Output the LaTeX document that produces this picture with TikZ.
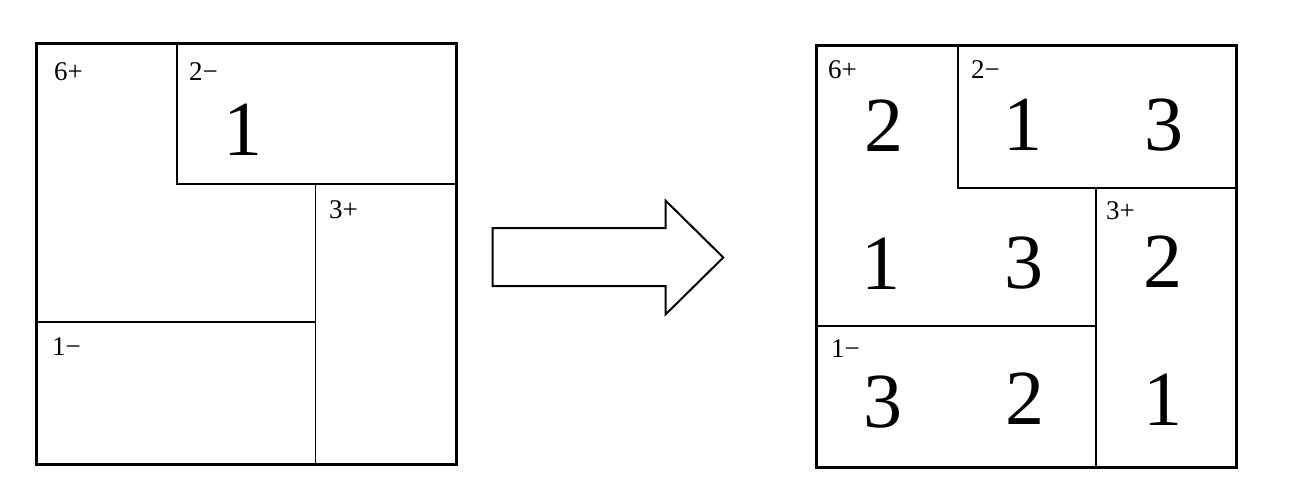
\documentclass[tikz,border=0pt]{standalone}
\usepackage{fontspec}
\setmainfont{Liberation Serif}
\begin{document}
\begin{tikzpicture}[x=1pt,y=-1pt,
  outer/.style={line width=3pt,line join=miter},
  inner/.style={line width=1.5pt},
  lbl/.style={anchor=base west,inner sep=0pt,font=\fontsize{27}{32}\selectfont},
  big/.style={anchor=base,inner sep=0pt,font=\fontsize{78}{90}\selectfont},
  arrowshape/.style={line width=2pt,line join=miter}]
\useasboundingbox (0,0) rectangle (1293,496);
% left grid
\draw[outer] (36.5,43.5) rectangle (456,464);
\draw[inner] (177,43.5) -- (177,184) -- (456,184);
\draw[inner] (315.5,184) -- (315.5,464);
\draw[inner] (36.5,322) -- (315.5,322);
\node[lbl] (l6) at (54,80) {6+};
\node[lbl] (l2) at (189,80) {2−};
\node[lbl] (l3) at (329,218) {3+};
\node[lbl] (l1) at (52,355) {1−};
\node[big] (lv) at (243,155) {1};
% arrow
\draw[arrowshape] (492.7,228) -- (665.7,228) -- (665.7,200.7) -- (723.3,257.5)
  -- (665.7,314.3) -- (665.7,286) -- (492.7,286) -- cycle;
% right grid
\draw[outer] (816.5,45) rectangle (1236,467);
\draw[inner] (958,45) -- (958,188) -- (1236,188);
\draw[inner] (1096,188) -- (1096,467);
\draw[inner] (816.5,326) -- (1096,326);
\node[lbl] (r6) at (828,78) {6+};
\node[lbl] (r2) at (971,78) {2−};
\node[lbl] (r3) at (1106,219) {3+};
\node[lbl] (r1) at (831,357) {1−};
\node[big] (a11) at (884,151) {2};
\node[big] (a12) at (1023,150) {1};
\node[big] (a13) at (1164,150) {3};
\node[big] (a21) at (881,289) {1};
\node[big] (a22) at (1024,288) {3};
\node[big] (a23) at (1163,287) {2};
\node[big] (a31) at (883,427) {3};
\node[big] (a32) at (1025,424) {2};
\node[big] (a33) at (1163,425) {1};
\end{tikzpicture}
\end{document}
